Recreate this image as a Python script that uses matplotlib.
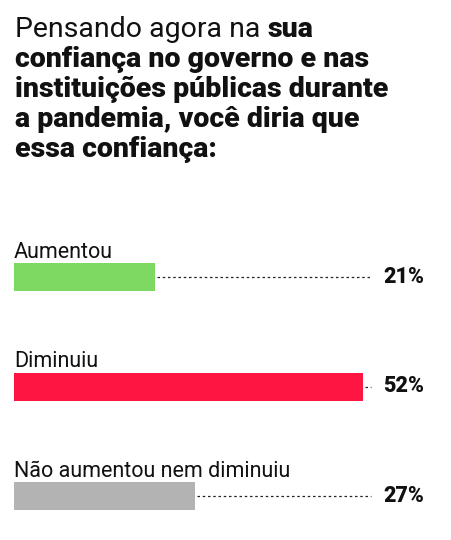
import matplotlib
matplotlib.use("Agg")
import matplotlib.pyplot as plt
import numpy as np

categories = ["Aumentou", "Diminuiu", "Não aumentou nem diminuiu"]
values = [21, 52, 27]
value_labels = ["21%", "52%", "27%"]
colors = ["#7DD962", "#FF1541", "#B3B3B3"]

title_first_regular = "Pensando agora na "
title_first_bold = "sua"
title_rest = ["confiança no governo e nas",
              "instituições públicas durante",
              "a pandemia, você diria que",
              "essa confiança:"]

W, H = 451, 540
fig = plt.figure(figsize=(W / 100, H / 100), dpi=100)
fig.patch.set_facecolor("white")
FONT = "Roboto"
TXT = "#111111"

# axes geometry in pixels
px_per_pct = 6.71
left_px = 14
right_px = 424
xmax = (right_px - left_px) / px_per_pct
px_per_unit = 109.5
y0_px = 277  # center of first bar from top
ytop, ybot = -0.5, 2.3
ax_top_px = y0_px + ytop * px_per_unit
ax_bot_px = y0_px + ybot * px_per_unit
ax = fig.add_axes([left_px / W, 1 - ax_bot_px / H, (right_px - left_px) / W,
                   (ax_bot_px - ax_top_px) / H])
ax.set_xlim(0, xmax)
ax.set_ylim(ybot, ytop)
ax.axis("off")

ypos = np.arange(len(categories))
bar_h = 28 / px_per_unit
ax.barh(ypos, values, height=bar_h, color=colors, edgecolor="none")

dot_end = (371 - left_px) / px_per_pct
for y, v, cat, lab in zip(ypos, values, categories, value_labels):
    ax.plot([v + 0.3, dot_end], [y, y], linestyle=(0, (2, 2.2)), color="#222222",
            linewidth=0.9, solid_capstyle="butt")
    ax.annotate(cat, xy=(0, y), xytext=(0, 14), textcoords="offset points",
                ha="left", va="baseline", fontsize=15.5, family=FONT, color=TXT)
    ax.text(1.0, y, lab, transform=ax.get_yaxis_transform(), ha="right",
            va="center", fontsize=15.5, fontweight=900, family=FONT, color=TXT)

# title
tx = 15 / W
t_size = 20.5
line_h = 30
base0 = 37
t1 = fig.text(tx, 1 - base0 / H, title_first_regular, ha="left", va="baseline",
              fontsize=t_size, family=FONT, color=TXT)
fig.canvas.draw()
r = fig.canvas.get_renderer()
bb = t1.get_window_extent(r)
fig.text(bb.x1 / W, 1 - base0 / H, title_first_bold, ha="left", va="baseline",
         fontsize=t_size, family=FONT, fontweight=900, color=TXT)
for i, line in enumerate(title_rest):
    fig.text(tx, 1 - (base0 + (i + 1) * line_h) / H, line, ha="left",
             va="baseline", fontsize=t_size, family=FONT, fontweight=900,
             color=TXT)

fig.savefig("out.png", dpi=100, facecolor="white")
